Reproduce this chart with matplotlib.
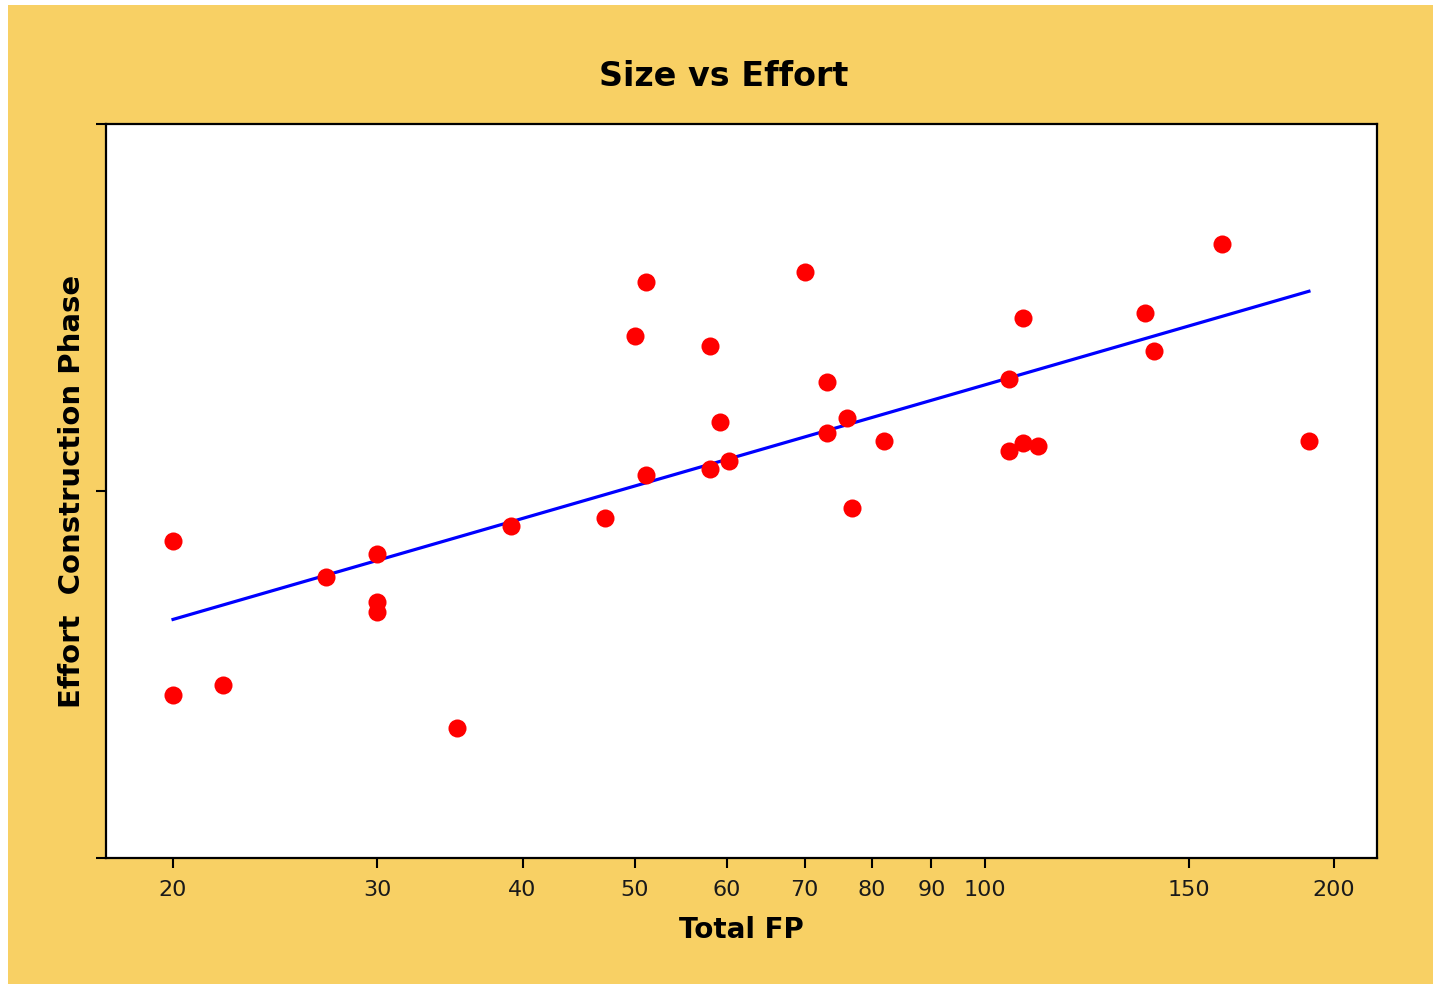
import numpy as np
import matplotlib
matplotlib.use("Agg")
import matplotlib.pyplot as plt
from matplotlib.patches import Rectangle
from matplotlib.ticker import FixedLocator, NullLocator, NullFormatter, FixedFormatter

# Data
total_fp = [20, 20, 22.1, 27.1, 30, 30, 30, 35.1, 39.1, 47.1, 50, 51.1, 51.1,
            58, 58, 59.2, 60.2, 70, 73.2, 73.2, 76.1, 76.9, 81.9, 105, 105,
            108, 108, 111.2, 137.5, 140, 160, 190.3]
effort = [731, 278, 296, 583, 673, 498, 468, 226, 803, 844, 2645, 3711, 1106,
          2484, 1148, 1542, 1207, 3951, 1982, 1439, 1581, 899, 1368, 2020, 1285,
          2961, 1351, 1326, 3055, 2407, 4710, 1368]
x_ticks = [20, 30, 40, 50, 60, 70, 80, 90, 100, 150, 200]
x_tick_labels = ["20", "30", "40", "50", "60", "70", "80", "90", "100", "150", "200"]
y_ticks = [100, 1000, 10000]

BG = "#F8D064"

fig = plt.figure(figsize=(14.33, 9.84), dpi=100)
fig.patch.set_facecolor("white")
fig.patches.append(Rectangle((8 / 1433, 0), 1 - 8 / 1433, 1 - 5 / 984,
                             transform=fig.transFigure, facecolor=BG,
                             edgecolor="none", zorder=-10))

ax = fig.add_axes([106 / 1433, 1 - 858 / 984, (1377 - 106) / 1433, (858 - 124) / 984])
ax.set_zorder(1)
ax.set_facecolor("white")
ax.set_xscale("log")
ax.set_yscale("log")

# least squares fit in log-log space
lx = np.log10(total_fp)
ly = np.log10(effort)
b, a = np.polyfit(lx, ly, 1)
xf = np.linspace(min(total_fp), max(total_fp), 50)
yf = 10 ** (a + b * np.log10(xf))
ax.plot(xf, yf, color="#0000FF", lw=2.3, zorder=2)

ax.plot(total_fp, effort, "o", color="#FF0000", markersize=13,
        markeredgewidth=0, zorder=3)

ax.set_xlim(17.51, 217.8)
ax.set_ylim(100, 10000)
ax.xaxis.set_major_locator(FixedLocator(x_ticks))
ax.xaxis.set_major_formatter(FixedFormatter(x_tick_labels))
ax.xaxis.set_minor_locator(NullLocator())
ax.yaxis.set_major_locator(FixedLocator(y_ticks))
ax.yaxis.set_major_formatter(NullFormatter())
ax.yaxis.set_minor_locator(NullLocator())

for s in ax.spines.values():
    s.set_linewidth(1.6)
    s.set_color("black")
ax.tick_params(axis="both", direction="out", length=7, width=1.5, color="black")
ax.tick_params(axis="x", labelsize=16, pad=9, labelcolor="#1a1a1a")

ax.set_xlabel("Total FP", fontsize=20, fontweight="bold", labelpad=11)
ax.set_ylabel("Effort  Construction Phase", fontsize=21, fontweight="bold", labelpad=4)

fig.text(0.505, 1 - 77 / 984, "Size vs Effort", fontsize=24, fontweight="bold",
         ha="center", va="center")

fig.savefig("out.png", dpi=100, facecolor=fig.get_facecolor())
